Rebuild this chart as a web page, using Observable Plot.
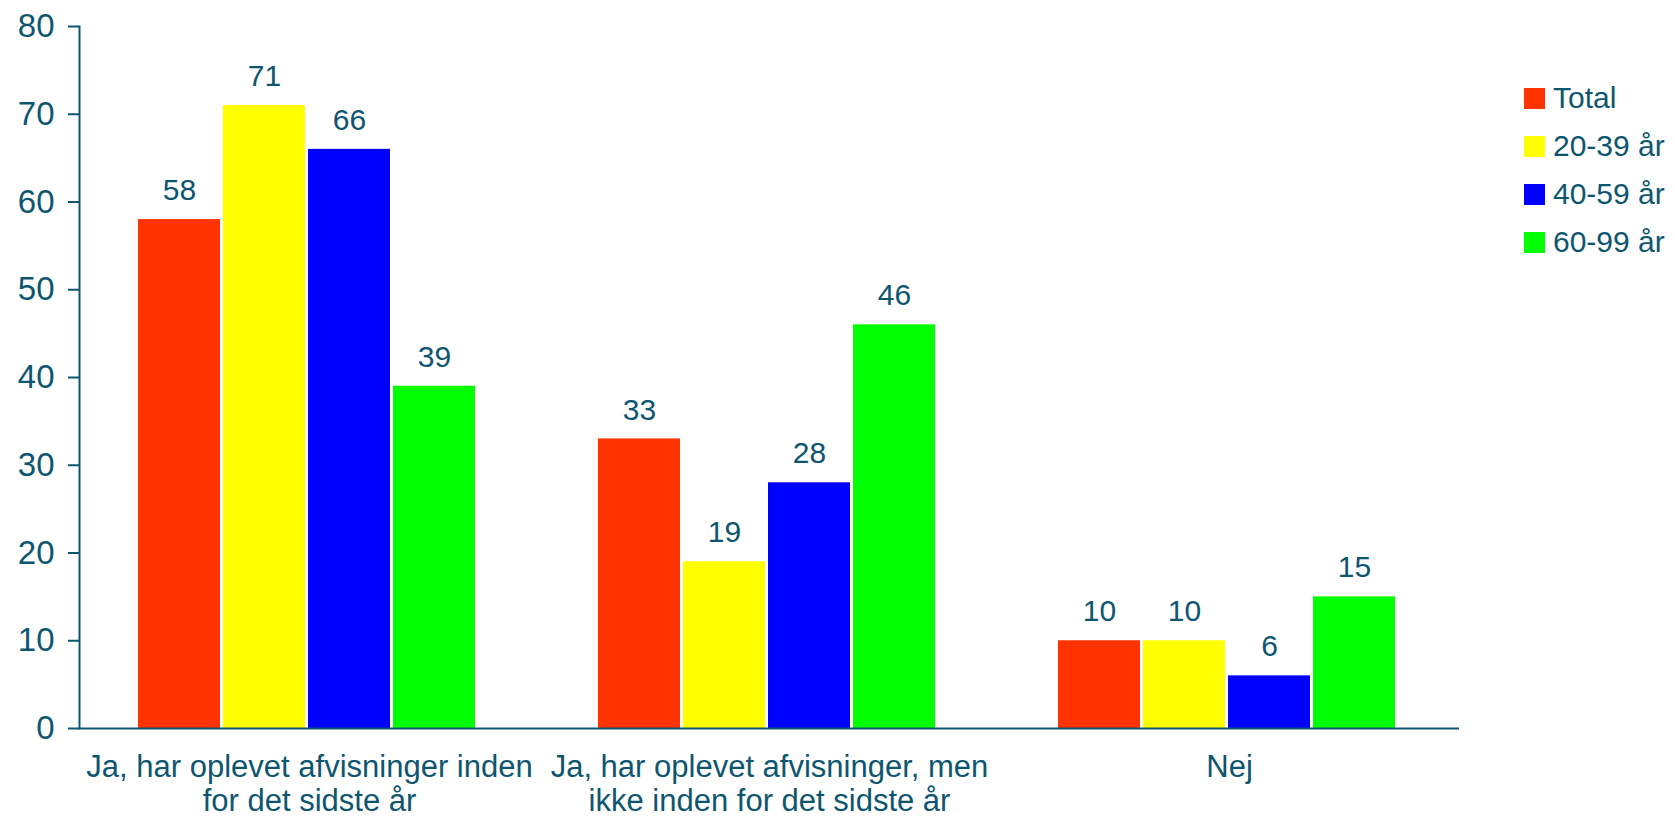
<!DOCTYPE html>
<html><head><meta charset="utf-8">
<script src="https://cdn.jsdelivr.net/npm/d3@7"></script>
<script src="https://cdn.jsdelivr.net/npm/@observablehq/plot@0.6"></script>
<style>
body{margin:0;background:#fff;}
#wrap{position:relative;width:1675px;height:818px;}
#legend{position:absolute;left:1524px;top:74px;font-family:"Liberation Sans",Arial,sans-serif;font-size:30px;color:#0e5670;}
.row{display:flex;align-items:center;height:48px;}
.sw{width:21px;height:21px;margin-right:8px;flex:none;}
</style></head><body><div id="wrap"></div>
<script>
const groups = ["Ja, har oplevet afvisninger inden for det sidste år", "Ja, har oplevet afvisninger, men ikke inden for det sidste år", "Nej"];
const groupLabels = ["Ja, har oplevet afvisninger inden\nfor det sidste år", "Ja, har oplevet afvisninger, men\nikke inden for det sidste år", "Nej"];
const series = ["Total", "20-39 år", "40-59 år", "60-99 år"];
const colors = ["#ff3300", "#ffff00", "#0000ff", "#00ff00"];
const total = [58, 33, 10];
const age2039 = [71, 19, 10];
const age4059 = [66, 28, 6];
const age6099 = [39, 46, 15];
const yTicks = [0, 10, 20, 30, 40, 50, 60, 70, 80];
const textColor = "#0e5670";

const seriesValues = [total, age2039, age4059, age6099];
const data = [];
groups.forEach((g, gi) => series.forEach((s, si) => data.push({group: g, series: s, value: seriesValues[si][gi]})));

const font = '"Liberation Sans", Arial, sans-serif';
const plot = Plot.plot({
  width: 1675, height: 818,
  marginLeft: 78, marginRight: 215, marginTop: 26, marginBottom: 90,
  style: {fontFamily: font, fontSize: "30px", color: textColor, background: "white"},
  fx: {domain: groups, padding: 0, label: null},
  x: {domain: series, axis: null, paddingInner: 0.041, paddingOuter: 0.72, align: 0.475},
  y: {domain: [0, 80], label: null},
  color: {domain: series, range: colors},
  marks: [
    Plot.barY(data, {fx: "group", x: "series", y: "value", fill: "series"}),
    Plot.text(data, {fx: "group", x: "series", y: "value", text: d => String(d.value), dy: -29, lineAnchor: "middle", fill: textColor, fontSize: 30}),
    Plot.axisY({ticks: yTicks, tickSize: 11, tickPadding: 14, strokeWidth: 2, fontSize: 33, label: null}),
    Plot.axisFx({anchor: "bottom", tickSize: 0, tickPadding: 24, tickFormat: g => groupLabels[groups.indexOf(g)], lineHeight: 1.1, fontSize: 31, label: null}),
    Plot.frame({anchor: "left", facetAnchor: "left", stroke: textColor, strokeWidth: 2}),
    Plot.ruleY([0], {stroke: textColor, strokeWidth: 2})
  ]
});
const wrap = document.getElementById("wrap");
wrap.appendChild(plot);
const legend = document.createElement("div");
legend.id = "legend";
series.forEach((s, i) => {
  const row = document.createElement("div");
  row.className = "row";
  const sw = document.createElement("div");
  sw.className = "sw";
  sw.style.background = colors[i];
  const t = document.createElement("span");
  t.textContent = s;
  row.appendChild(sw); row.appendChild(t);
  legend.appendChild(row);
});
wrap.appendChild(legend);
</script></body></html>
